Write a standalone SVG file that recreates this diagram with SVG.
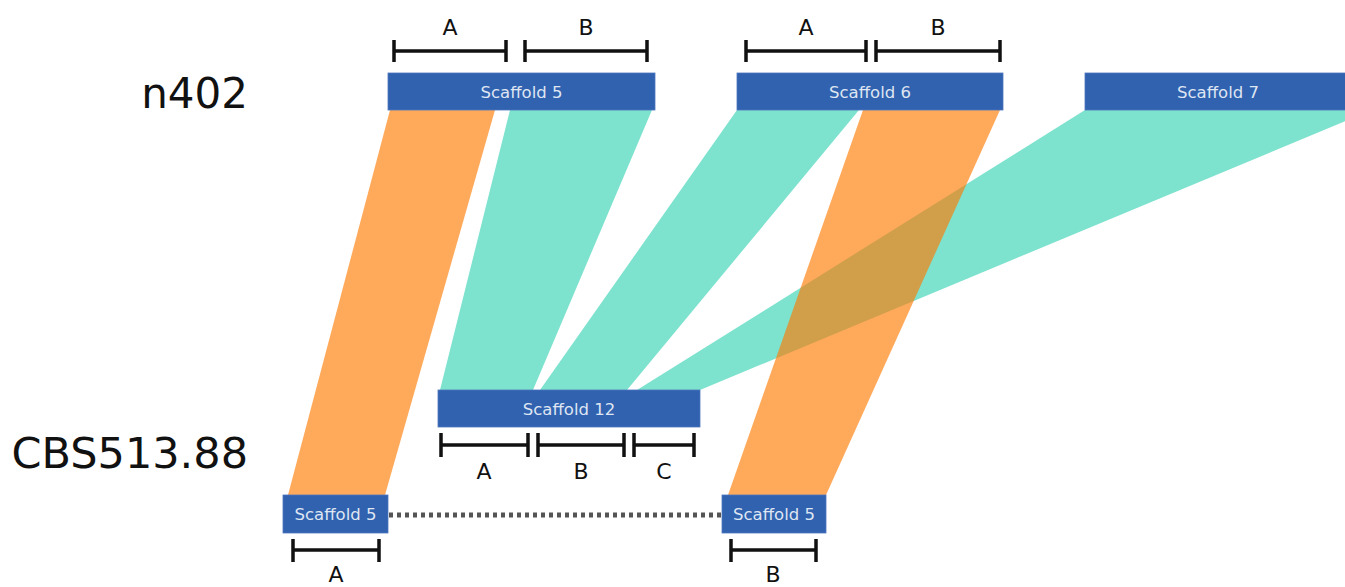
<svg xmlns="http://www.w3.org/2000/svg" width="1345" height="587" viewBox="0 0 1345 587">
  <style>
    .scaf { fill: #3162AF; stroke: #4f77bd; stroke-width: 0.8; }
    .stxt { font-family: "DejaVu Sans", sans-serif; font-size: 16.5px; fill: #dfe6f3; text-anchor: middle; }
    .genome { font-family: "DejaVu Sans", sans-serif; font-size: 42px; fill: #111; text-anchor: end; }
    .blab { font-family: "DejaVu Sans", sans-serif; font-size: 22px; fill: #111; text-anchor: middle; }
    .br { stroke: #111; stroke-width: 3.5; fill: none; }
    .teal { fill: #7DE2CE; }
    .orange { fill: #FF7B03; fill-opacity: 0.65; }
    .gap { stroke: #555; stroke-width: 5; stroke-dasharray: 4 4; }
  </style>

  <text class="genome" x="248" y="108">n402</text>
  <text class="genome" x="248" y="468" style="font-size:43px">CBS513.88</text>

  <g id="connectors">
    <polygon class="teal" points="510,110 652,110 533,390 440,390"/>
    <polygon class="teal" points="737,110 859,110 627,390 540,390"/>
    <polygon class="teal" points="1085,110 1372,110 700,390 637,390"/>
    <polygon class="orange" points="390,110 495,110 385,495 288,495"/>
    <polygon class="orange" points="863,110 1000,110 826,495 728,495"/>
    <line class="gap" x1="389" y1="515" x2="722" y2="515"/>
  </g>

  <g id="n402-scaffold5">
    <rect class="scaf" x="388" y="73" width="267" height="37"/>
    <text class="stxt" x="521.5" y="97.5">Scaffold 5</text>
  </g>
  <g id="n402-scaffold6">
    <rect class="scaf" x="737" y="73" width="266" height="37"/>
    <text class="stxt" x="870" y="97.5">Scaffold 6</text>
  </g>
  <g id="n402-scaffold7">
    <rect class="scaf" x="1085" y="73" width="265" height="37"/>
    <text class="stxt" x="1218" y="97.5">Scaffold 7</text>
  </g>
  <g id="cbs-scaffold12">
    <rect class="scaf" x="438" y="390" width="262" height="37"/>
    <text class="stxt" x="569" y="414.5">Scaffold 12</text>
  </g>
  <g id="cbs-scaffold5a">
    <rect class="scaf" x="283" y="495" width="105" height="38"/>
    <text class="stxt" x="335.5" y="520">Scaffold 5</text>
  </g>
  <g id="cbs-scaffold5b">
    <rect class="scaf" x="722" y="495" width="104" height="38"/>
    <text class="stxt" x="774" y="520">Scaffold 5</text>
  </g>

  <g id="brackets-n402-s5">
    <path class="br" d="M394,40V62M394,51H506M506,40V62"/>
    <text class="blab" x="450" y="35">A</text>
    <path class="br" d="M525,40V62M525,51H647M647,40V62"/>
    <text class="blab" x="586" y="35">B</text>
  </g>
  <g id="brackets-n402-s6">
    <path class="br" d="M746,40V62M746,51H866M866,40V62"/>
    <text class="blab" x="806" y="35">A</text>
    <path class="br" d="M876,40V62M876,51H1000M1000,40V62"/>
    <text class="blab" x="938" y="35">B</text>
  </g>
  <g id="brackets-cbs-s12">
    <path class="br" d="M441,433V457M441,445H528M528,433V457"/>
    <text class="blab" x="484" y="479">A</text>
    <path class="br" d="M538,433V457M538,445H624M624,433V457"/>
    <text class="blab" x="581" y="479">B</text>
    <path class="br" d="M634,433V457M634,445H694M694,433V457"/>
    <text class="blab" x="664" y="479">C</text>
  </g>
  <g id="brackets-cbs-s5a">
    <path class="br" d="M293,539V562M293,550H379M379,539V562"/>
    <text class="blab" x="336" y="582">A</text>
  </g>
  <g id="brackets-cbs-s5b">
    <path class="br" d="M731,539V562M731,550H816M816,539V562"/>
    <text class="blab" x="773" y="582">B</text>
  </g>
</svg>
